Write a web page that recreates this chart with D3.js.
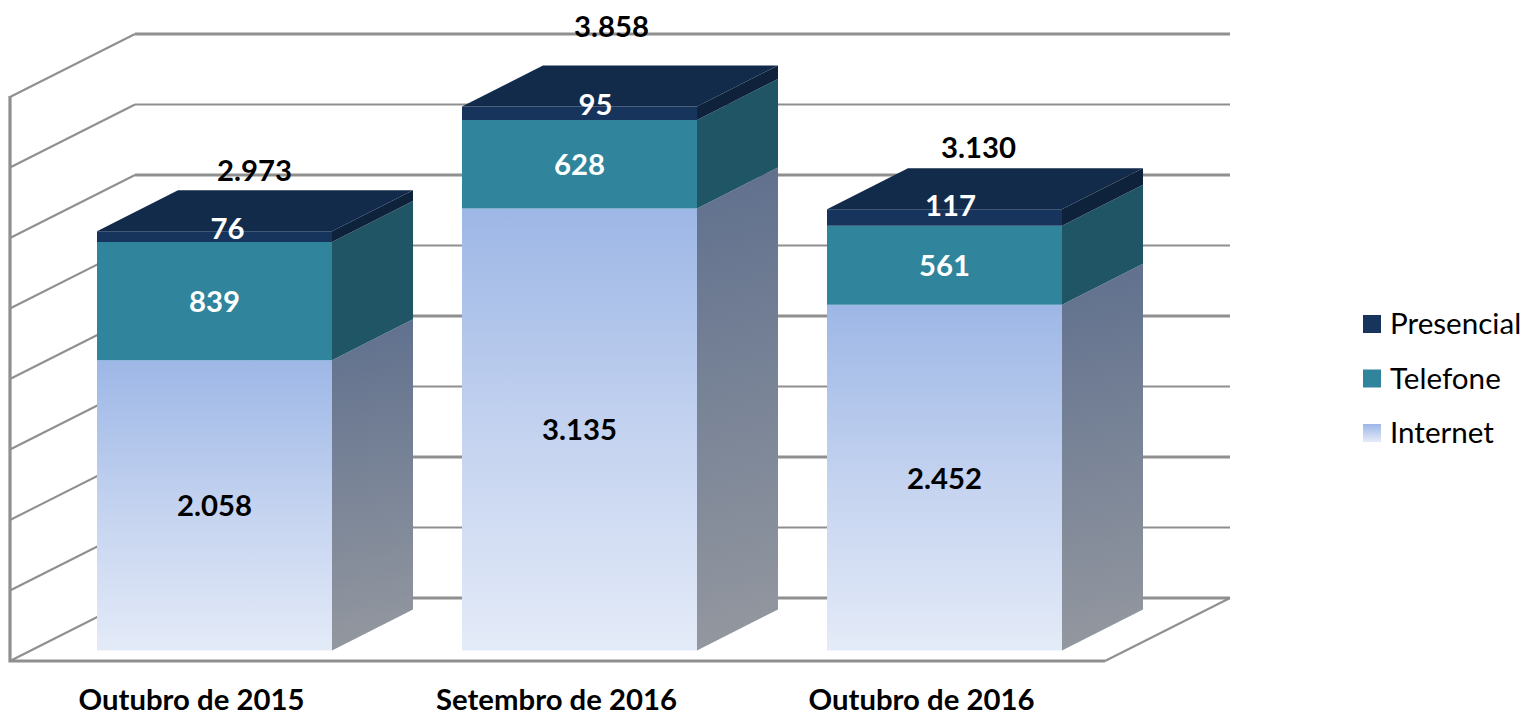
<!DOCTYPE html>
<html><head><meta charset="utf-8">
<script src="https://cdn.jsdelivr.net/npm/d3@7/dist/d3.min.js"></script>
<style>html,body{margin:0;padding:0;background:#fff;overflow:hidden}svg{display:block}text{font-family:Lato,"Open Sans",sans-serif}</style>
</head><body><svg id="c" width="1524" height="716"></svg>
<script>
const categories = ["Outubro de 2015", "Setembro de 2016", "Outubro de 2016"];
const internet = [2058, 3135, 2452];
const telefone = [839, 628, 561];
const presencial = [76, 95, 117];
const totals = [2973, 3858, 3130];
const seriesNames = ["Presencial", "Telefone", "Internet"];
const yTicks = [0, 500, 1000, 1500, 2000, 2500, 3000, 3500, 4000];

const svg = d3.select("#c");
const fmt = v => d3.format(",")(v).replace(/,/g, ".");

// plane geometry
const wallLeft = 10, wallRight = 1105, floorFront = 661, backDx = 125, backDy = -63;
const y = d3.scaleLinear().domain([0, 4000]).range([floorFront, 97]);
const yBar = d3.scaleLinear().domain([0, 4000]).range([650.5, 86.5]);
const x = d3.scalePoint().domain(categories).range([214.5, 944.5]);
const barW = 235, depthX = 81, depthY = -41;

// gradients
const defs = svg.append("defs");
function grad(id, stops, x2, y2) {
  const g = defs.append("linearGradient").attr("id", id)
    .attr("x1", 0).attr("y1", 0).attr("x2", x2).attr("y2", y2);
  stops.forEach((c, i) => g.append("stop").attr("offset", i / (stops.length - 1)).attr("stop-color", c));
}
grad("front", ["#9db7e6", "#c3d2ef", "#e4ebf8"], 0, 1);
grad("side", ["#5f6f8d", "#798497", "#93979f"], 0.04, 1);
grad("legend", ["#9db7e6", "#e4ebf8"], 0, 1);

// grid
const gridColor = "#8f8f8f";
const grid = svg.append("g").attr("fill", "none").attr("stroke", gridColor);
yTicks.forEach((t, i) => {
  const yy = y(t);
  grid.append("path").attr("stroke-width", 2)
    .attr("d", d3.line()([[wallLeft, yy], [wallLeft + backDx, yy + backDy]]));
  grid.append("path").attr("stroke-width", i % 2 === 0 ? 3 : 2)
    .attr("d", d3.line()([[wallLeft + backDx, yy + backDy], [wallRight + backDx, yy + backDy]]));
});
grid.append("path").attr("stroke-width", 3.2)
  .attr("d", d3.line()([[wallLeft, y(4000) - 1], [wallLeft, y(0)], [wallRight, y(0)]]));
grid.append("path").attr("stroke-width", 2)
  .attr("d", d3.line()([[wallRight, y(0)], [wallRight + backDx, y(0) + backDy]]));

// bars
const poly = (g, pts, fill) => g.append("path").attr("d", d3.line()(pts) + "Z").attr("fill", fill);
categories.forEach((c, i) => {
  const g = svg.append("g");
  const L = x(c) - barW / 2, R = L + barW;
  const segs = [
    { a: 0, b: internet[i], front: "url(#front)", side: "url(#side)" },
    { a: internet[i], b: internet[i] + telefone[i], front: "#30859c", side: "#1f5565" },
    { a: internet[i] + telefone[i], b: internet[i] + telefone[i] + presencial[i], front: "#17345c", side: "#0e223c" }
  ];
  segs.forEach(s => {
    const y0 = yBar(s.a), y1 = yBar(s.b);
    poly(g, [[R, y0], [R + depthX, y0 + depthY], [R + depthX, y1 + depthY], [R, y1]], s.side);
    poly(g, [[L, y0], [R, y0], [R, y1], [L, y1]], s.front);
  });
  const t = yBar(segs[2].b);
  poly(g, [[L, t], [L + depthX, t + depthY], [R + depthX, t + depthY], [R, t]], "#132b4a");
});

// data labels
const label = (px, py, txt, fill) => svg.append("text").attr("x", px).attr("y", py)
  .attr("text-anchor", "middle").attr("dominant-baseline", "central")
  .attr("font-size", 29.3).attr("font-weight", 700).attr("fill", fill).text(txt);
const presNudge = [[13, -9], [16, -10], [6, -13]];
const totalNudge = [[40, -62], [32, -81.5], [34, -63]];
categories.forEach((c, i) => {
  const a = internet[i], b = a + telefone[i], d = b + presencial[i];
  label(x(c), yBar(a / 2) - 0.5, fmt(a), "#000");
  label(x(c), yBar((a + b) / 2) - 0.5, fmt(telefone[i]), "#fff");
  label(x(c) + presNudge[i][0], yBar((b + d) / 2) + presNudge[i][1], fmt(presencial[i]), "#fff");
  label(x(c) + totalNudge[i][0], yBar(totals[i]) + totalNudge[i][1], fmt(totals[i]), "#000");
  svg.append("text").attr("x", x(c) - 23).attr("y", 709.5)
    .attr("text-anchor", "middle")
    .attr("font-size", 29.3).attr("font-weight", 700).attr("fill", "#000").text(c);
});

// legend
const legendFill = ["#17345c", "#30859c", "url(#legend)"];
const legendY = d3.scalePoint().domain(seriesNames).range([324, 433]);
seriesNames.forEach((n, i) => {
  svg.append("rect").attr("x", 1363).attr("y", legendY(n) - 9).attr("width", 18).attr("height", 18).attr("fill", legendFill[i]);
  svg.append("text").attr("x", 1390).attr("y", legendY(n) - 1.5).attr("dominant-baseline", "central")
    .attr("font-size", 29.6).attr("fill", "#000").text(n);
});
</script></body></html>
